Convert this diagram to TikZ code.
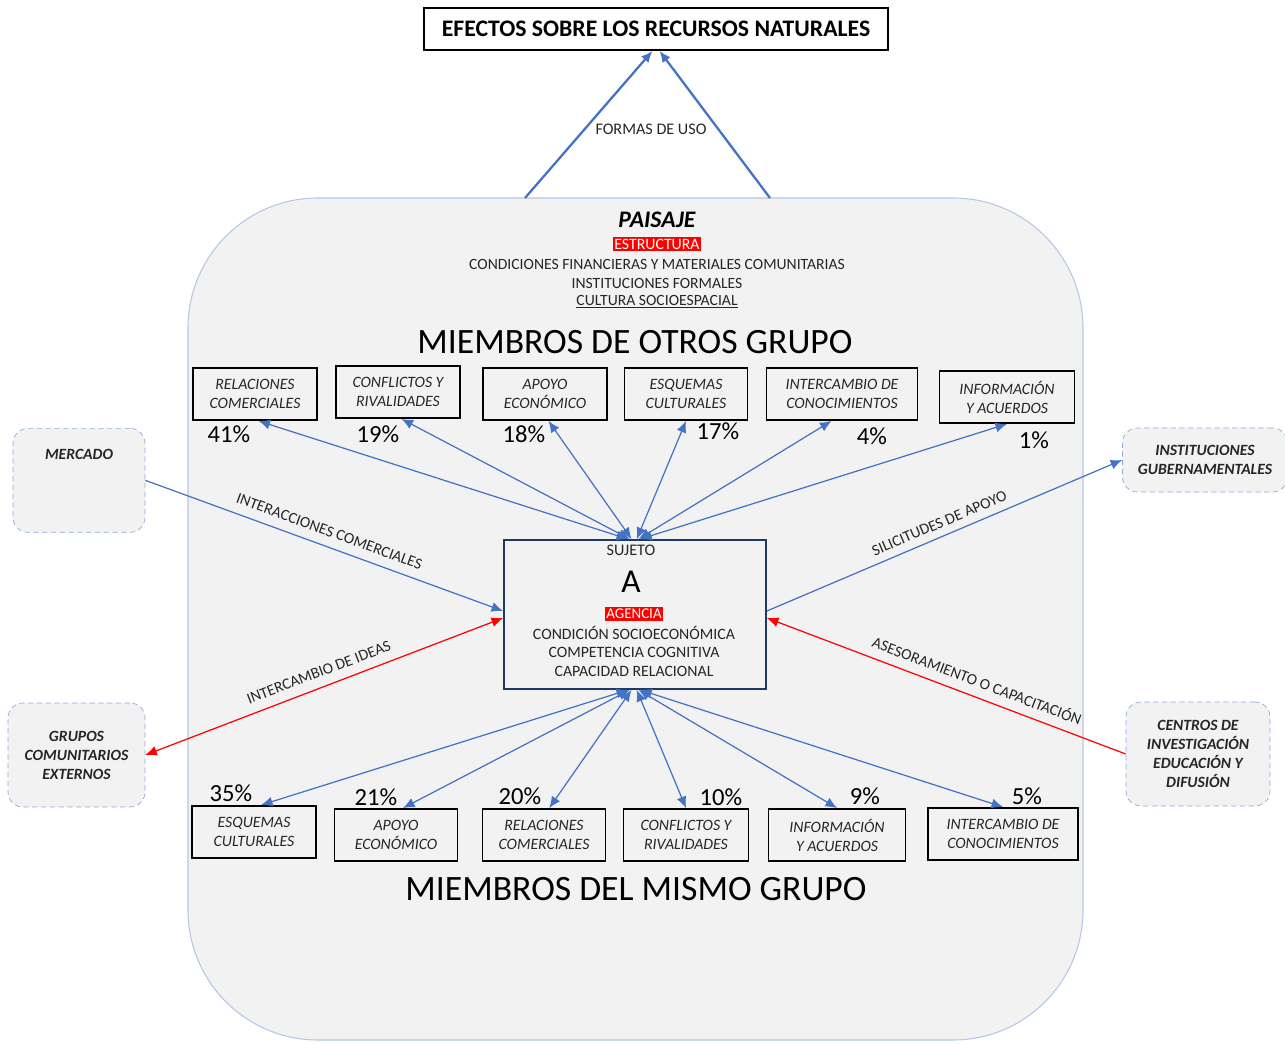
\documentclass[tikz,border=0pt]{standalone}
\usepackage{fontspec}
\setmainfont{Carlito}
\usetikzlibrary{arrows.meta,fit}

\definecolor{fondo}{HTML}{F2F2F2}
\definecolor{azul}{HTML}{4472C4}
\definecolor{borde}{HTML}{B4C7E7}
\definecolor{trazo}{HTML}{8FAADC}
\definecolor{marino}{HTML}{1F3864}
\definecolor{texto}{HTML}{262626}

\begin{document}
\begin{tikzpicture}[
    x=0.02cm, y=-0.02cm,
    >={Latex[length=2.3mm,width=2mm]},
    tema/.style={rectangle, draw=black, line width=1.1pt, fill=fondo, align=center, minimum height=1.04cm, inner sep=1pt, font=\fontsize{9}{10.8}\selectfont\itshape, text=texto},
    pct/.style={font=\fontsize{14}{14}\selectfont, text=black},
    externo/.style={rectangle, rounded corners=0.3cm, draw=trazo, densely dashed, thin, fill=fondo, align=center, inner sep=0pt, font=\fontsize{8.9}{10.8}\selectfont\bfseries\itshape, text=texto},
    flecha/.style={azul, line width=0.7pt},
    flecharoja/.style={red, line width=0.7pt},
    rotulo/.style={font=\fontsize{8.9}{8.9}\selectfont, text=texto},
    centro/.style={font=\fontsize{9}{9}\selectfont, text=texto},
    titulo/.style={font=\fontsize{20.3}{20.3}\selectfont, text=black}
]
    \useasboundingbox (0,0) rectangle (1285,1044);

    % Paisaje
    \node[fit={(188,198) (1083,1040)}, inner sep=0pt, rounded corners=2.6cm, draw=borde, fill=fondo, line width=0.6pt] (paisaje) {};

    \node[draw=black, line width=1pt, fill=white, minimum width=9.28cm, minimum height=0.84cm, font=\fontsize{13.5}{13.5}\selectfont\bfseries] (efectos) at (656,29) {EFECTOS SOBRE LOS RECURSOS NATURALES};

    \coordinate (usoL) at (525,198);
    \coordinate (usoR) at (770,198);
    \draw[->, azul, line width=1.3pt] (usoL) -- ([xshift=-2pt]efectos.south);
    \draw[->, azul, line width=1.3pt] (usoR) -- ([xshift=2pt]efectos.south);
    \node[rotulo, font=\fontsize{9.2}{9.2}\selectfont] (formas) at (651,129) {FORMAS DE USO};

    \node[font=\fontsize{13.5}{13.5}\selectfont\bfseries\itshape] (paisajetxt) at (657,220) {PAISAJE};
    \node[fill=red, text=white, inner sep=1pt, font=\fontsize{9}{9}\selectfont] (estructura) at (657,244) {ESTRUCTURA};
    \node[rotulo] (condiciones) at (657,264) {CONDICIONES FINANCIERAS Y MATERIALES COMUNITARIAS};
    \node[rotulo] (instituciones) at (657,283) {INSTITUCIONES FORMALES};
    \node[rotulo] (cultura) at (657,302) {\underline{CULTURA SOCIOESPACIAL}};

    \node[titulo] (otros) at (635,342) {MIEMBROS DE OTROS GRUPO};
    \node[titulo] (mismo) at (636,889) {MIEMBROS DEL MISMO GRUPO};

    % Sujeto
    \node[rectangle, draw=marino, line width=1.1pt, fill=fondo, minimum width=5.24cm, minimum height=2.98cm] (sujeto) at (635,614.5) {};
    \node[centro, font=\fontsize{9.2}{9.2}\selectfont] (sujetotxt) at (631,550) {SUJETO};
    \node[font=\fontsize{19}{19}\selectfont, text=black] (letraA) at (631,582) {A};
    \node[fill=red, text=white, inner sep=1pt, font=\fontsize{8.5}{8.5}\selectfont] (agencia) at (634,614) {AGENCIA};
    \node[centro] (condicion) at (634,633) {CONDICIÓN SOCIOECONÓMICA};
    \node[centro] (competencia) at (634,652) {COMPETENCIA COGNITIVA};
    \node[centro] (capacidad) at (634,671) {CAPACIDAD RELACIONAL};

    % Otros grupos
    \node[tema, minimum width=2.48cm] (o1) at (255,394) {RELACIONES\\COMERCIALES};
    \node[tema, minimum width=2.48cm] (o2) at (398,392) {CONFLICTOS Y\\RIVALIDADES};
    \node[tema, minimum width=2.48cm] (o3) at (545,394) {APOYO\\ECONÓMICO};
    \node[tema, minimum width=2.46cm] (o4) at (686,394) {ESQUEMAS\\CULTURALES};
    \node[tema, minimum width=3.02cm] (o5) at (842,394) {INTERCAMBIO DE\\CONOCIMIENTOS};
    \node[tema, minimum width=2.7cm] (o6) at (1007,397) {INFORMACIÓN\\Y ACUERDOS};

    \node[pct] (p41) at (229,434) {41\%};
    \node[pct] (p19) at (378,434) {19\%};
    \node[pct] (p18) at (524,434) {18\%};
    \node[pct] (p17) at (718,431) {17\%};
    \node[pct] (p4) at (872,436) {4\%};
    \node[pct] (p1) at (1034,440) {1\%};

    % Mismo grupo
    \node[tema, minimum width=2.48cm] (m1) at (254,832) {ESQUEMAS\\CULTURALES};
    \node[tema, minimum width=2.46cm] (m2) at (396,835) {APOYO\\ECONÓMICO};
    \node[tema, minimum width=2.46cm] (m3) at (544,835) {RELACIONES\\COMERCIALES};
    \node[tema, minimum width=2.5cm] (m4) at (686,835) {CONFLICTOS Y\\RIVALIDADES};
    \node[tema, minimum width=2.74cm] (m5) at (837,835) {INFORMACIÓN\\Y ACUERDOS};
    \node[tema, minimum width=3.0cm] (m6) at (1003,834) {INTERCAMBIO DE\\CONOCIMIENTOS};

    \node[pct] (p35) at (231,793) {35\%};
    \node[pct] (p21) at (376,797) {21\%};
    \node[pct] (p20) at (520,796) {20\%};
    \node[pct] (p10) at (721,797) {10\%};
    \node[pct] (p9) at (865,796) {9\%};
    \node[pct] (p5) at (1027,796) {5\%};

    % Flechas otros grupos
    \draw[flecha, <->] ([xshift=-4pt]sujeto.north) -- ([xshift=2pt]o1.south);
    \draw[flecha, <->] ([xshift=-3pt]sujeto.north) -- ([xshift=2pt]o2.south);
    \draw[flecha, <->] ([xshift=-2pt]sujeto.north) -- ([xshift=2pt]o3.south);
    \draw[flecha, <->] ([xshift=1pt]sujeto.north) -- (o4.south);
    \draw[flecha, <->] ([xshift=2pt]sujeto.north) -- ([xshift=-6pt]o5.south);
    \draw[flecha, <->] ([xshift=3pt]sujeto.north) -- (o6.south);

    % Flechas mismo grupo
    \draw[flecha, <->] ([xshift=-4pt]sujeto.south) -- ([xshift=4pt]m1.north);
    \draw[flecha, <->] ([xshift=-3pt]sujeto.south) -- ([xshift=4pt]m2.north);
    \draw[flecha, <->] ([xshift=-2pt]sujeto.south) -- ([xshift=3pt]m3.north);
    \draw[flecha, <->] ([xshift=1pt]sujeto.south) -- (m4.north);
    \draw[flecha, <->] ([xshift=2pt]sujeto.south) -- (m5.north);
    \draw[flecha, <->] ([xshift=3pt]sujeto.south) -- (m6.north);

    % Actores externos
    \node[externo, minimum width=2.64cm, text height=0.62cm, text depth=1.46cm, anchor=north] (mercado) at (79,428) {MERCADO};
    \node[externo, minimum width=2.74cm, minimum height=2.08cm] (grupos) at (76.5,755) {GRUPOS\\COMUNITARIOS\\EXTERNOS};
    \node[externo, minimum width=3.3cm, minimum height=1.28cm] (gobierno) at (1205,460) {INSTITUCIONES\\GUBERNAMENTALES};
    \node[externo, minimum width=2.88cm, minimum height=2.08cm] (centros) at (1198,754) {CENTROS DE\\INVESTIGACIÓN\\EDUCACIÓN Y\\DIFUSIÓN};

    \draw[flecha, ->] (mercado.east) -- ([yshift=2pt]sujeto.west)
        node[rotulo, midway, above=2pt, sloped] (interacciones) {INTERACCIONES COMERCIALES};
    \draw[flecharoja, <->] ([yshift=-2pt]sujeto.west) -- (grupos.east)
        node[rotulo, midway, above=2pt, sloped] (ideas) {INTERCAMBIO DE IDEAS};
    \draw[flecha, ->] ([yshift=2pt]sujeto.east) -- (gobierno.west)
        node[rotulo, midway, above=1pt, sloped] (solicitudes) {SILICITUDES DE APOYO};
    \draw[flecharoja, ->] (centros.west) -- ([yshift=-2pt]sujeto.east)
        node[rotulo, pos=0.43, above=2pt, sloped] (asesoramiento) {ASESORAMIENTO O CAPACITACIÓN};

\end{tikzpicture}
\end{document}
